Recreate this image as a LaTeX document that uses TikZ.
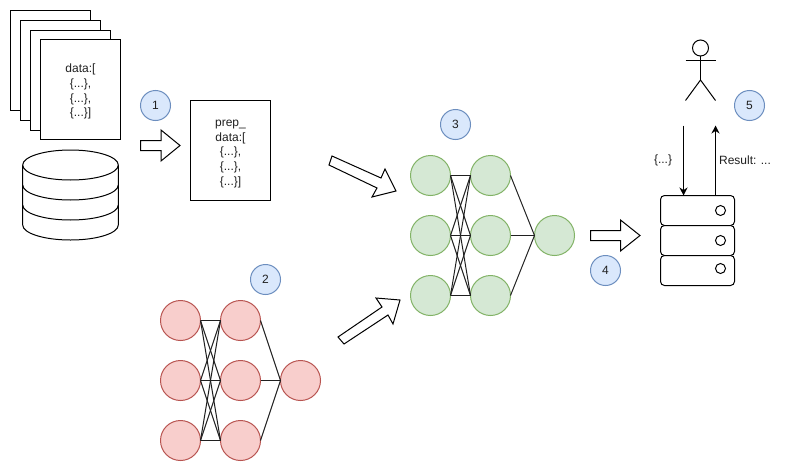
\documentclass[tikz,border=0pt]{standalone}
\usepackage{fontspec}
\setmainfont{Liberation Sans}
\usetikzlibrary{arrows.meta}
\definecolor{bluefill}{HTML}{DAE8FC}
\definecolor{blueline}{HTML}{6C8EBF}
\definecolor{greenfill}{HTML}{D5E8D4}
\definecolor{greenline}{HTML}{82B366}
\definecolor{redfill}{HTML}{F8CECC}
\definecolor{redline}{HTML}{B85450}
\definecolor{ink}{HTML}{202020}
\tikzset{
  base/.style={line width=1pt,draw=black},
  sheet/.style={base,fill=white,rectangle,minimum width=80pt,minimum height=100pt,inner sep=0pt,outer sep=0pt,align=center,font=\fontsize{12}{14.7}\selectfont,text=ink},
  badge/.style={circle,draw=blueline,fill=bluefill,line width=1pt,minimum size=30pt,inner sep=0pt,font=\fontsize{12}{14}\selectfont,text=ink},
  gcirc/.style={circle,draw=greenline,fill=greenfill,line width=1pt,minimum size=40pt,inner sep=0pt,outer sep=0pt},
  rcirc/.style={circle,draw=redline,fill=redfill,line width=1pt,minimum size=40pt,inner sep=0pt,outer sep=0pt},
  link/.style={line width=1pt,draw=ink},
  blockarrow/.style={line width=1pt,draw=black,fill=white,line join=miter},
  rack/.style={base,fill=white,rectangle,rounded corners=4pt,minimum width=74pt,minimum height=30pt,inner sep=0pt,outer sep=0pt},
  led/.style={base,fill=white,circle,minimum size=10pt,inner sep=0pt},
  flow/.style={line width=1pt,draw=black,-{Stealth[length=8pt,width=8pt]}},
  lbl/.style={font=\fontsize{12}{14}\selectfont,text=ink,inner sep=0pt}
}
\newcommand{\lowerfirst}{\rule{0pt}{13pt}}
\begin{document}
\begin{tikzpicture}[x=1pt,y=-1pt]
\useasboundingbox[fill=white] (0,0) rectangle (786,471);
% sheets
\node[sheet] (s1) at (50.5,60.5) {};
\node[sheet] (s2) at (60.5,70.5) {};
\node[sheet] (s3) at (70.5,80.5) {};
\node[sheet] (s4) at (80.5,89.5) {\lowerfirst data:[\\\{...\},\\\{...\},\\\{...\}]};
% cylinder
\draw[base,fill=white] (22.7,165) -- (22.7,225) arc[start angle=180,end angle=360,x radius=47.8,y radius=-15] -- (118.3,165);
\draw[base,fill=white] (70.5,165) ellipse[x radius=47.8,y radius=15];
\draw[base] (22.7,185) arc[start angle=180,end angle=360,x radius=47.8,y radius=-15];
\draw[base] (22.7,205) arc[start angle=180,end angle=360,x radius=47.8,y radius=-15];
% prep
\node[sheet] (p) at (230.5,150.5) {\lowerfirst prep\_\\data:[\\\{...\},\\\{...\},\\\{...\}]};
% block arrows
\draw[blockarrow] (140.5,140.5) -- (161,140.5) -- (161,130) -- (180,145.5) -- (161,161) -- (161,150.5) -- (140.5,150.5) -- cycle;
\draw[blockarrow] (332,156) -- (381,178) -- (385,169) -- (396,191) -- (372,197) -- (377,188) -- (329,165) -- cycle;
\draw[blockarrow] (338,337) -- (382,307) -- (376,298) -- (400,300) -- (393,324) -- (388,315) -- (344,344) -- cycle;
\draw[blockarrow] (590.5,230.5) -- (620.5,230.5) -- (620.5,220) -- (640,235.5) -- (620.5,251) -- (620.5,240.5) -- (590.5,240.5) -- cycle;
% badges
\node[badge] (b1) at (155.5,105.5) {1};
\node[badge] (b2) at (265.5,279.5) {2};
\node[badge] (b3) at (455.5,124.5) {3};
\node[badge] (b4) at (605.5,270.5) {4};
\node[badge] (b5) at (749.5,105.5) {5};
% green net
\foreach \n/\x/\y in {a1/430.5/175.5,a2/430.5/235.5,a3/430.5/295.5,c1/490.5/175.5,c2/490.5/235.5,c3/490.5/295.5,o/554.5/235.5}
  \node[gcirc] (g\n) at (\x,\y) {};
\foreach \i in {1,2,3}{\foreach \j in {1,2,3}{\draw[link] (ga\i.east) -- (gc\j.west);}}
\foreach \j in {1,2,3}{\draw[link] (gc\j.east) -- (go.west);}
% red net
\foreach \n/\x/\y in {a1/180.5/320.5,a2/180.5/380.5,a3/180.5/440.5,c1/240.5/320.5,c2/240.5/380.5,c3/240.5/440.5,o/300.5/380.5}
  \node[rcirc] (r\n) at (\x,\y) {};
\foreach \i in {1,2,3}{\foreach \j in {1,2,3}{\draw[link] (ra\i.east) -- (rc\j.west);}}
\foreach \j in {1,2,3}{\draw[link] (rc\j.east) -- (ro.west);}
% actor
\node[base,draw,circle,minimum size=16pt,inner sep=0pt,outer sep=0pt] (head) at (700.5,48) {};
\coordinate (hip) at (700.5,80);
\coordinate (armL) at (685.5,60.5);
\coordinate (armR) at (715.5,60.5);
\coordinate (legL) at (685.5,100.5);
\coordinate (legR) at (715.5,100.5);
\draw[base] (head.south) -- (hip);
\draw[base] (armL) -- (armR);
\draw[base] (legL) -- (hip) -- (legR);
% server
\node[rack] (k1) at (697.5,210.5) {};
\node[rack] (k2) at (697.5,240.5) {};
\node[rack] (k3) at (697.5,270.5) {};
\node[led] (l1) at (720.5,210.5) {};
\node[led] (l2) at (720.5,240.5) {};
\node[led] (l3) at (720.5,268.5) {};
% request/response
\coordinate (reqS) at (683.5,125.5);
\coordinate (resE) at (715.5,125.5);
\draw[flow] (reqS) -- (reqS |- k1.north);
\draw[flow] (resE |- k1.north) -- (resE);
\node[lbl] (req) at (663,160.5) {\{...\}};
\node[lbl] (res) at (745,160.5) {Result: ...};
\end{tikzpicture}
\end{document}
